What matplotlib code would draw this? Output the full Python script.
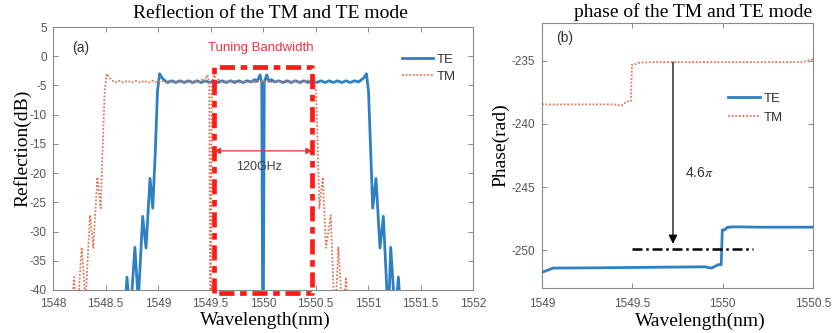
import matplotlib
matplotlib.use("Agg")
import matplotlib.pyplot as plt

# ---------------- data ----------------
# Panel (a): reflection spectra
TE_WL = [1548.600, 1548.690, 1548.705, 1548.722, 1548.745, 1548.780, 1548.812,
         1548.854, 1548.886, 1548.924, 1548.950, 1548.975, 1548.995, 1549.015,
         1549.035, 1549.060, 1549.090, 1549.130, 1549.170, 1549.210, 1549.250,
         1549.290, 1549.330, 1549.370, 1549.410, 1549.450, 1549.490, 1549.530,
         1549.570, 1549.610, 1549.650, 1549.690, 1549.730, 1549.770, 1549.810,
         1549.850, 1549.890, 1549.920, 1549.945, 1549.971, 1549.988, 1549.997,
         1550.003, 1550.012, 1550.035, 1550.055, 1550.080, 1550.110, 1550.150,
         1550.190, 1550.230, 1550.270, 1550.310, 1550.350, 1550.390, 1550.430,
         1550.470, 1550.510, 1550.550, 1550.590, 1550.630, 1550.670, 1550.710,
         1550.750, 1550.790, 1550.830, 1550.870, 1550.910, 1550.940, 1550.965,
         1550.985, 1551.005, 1551.025, 1551.045, 1551.076, 1551.114, 1551.146,
         1551.185, 1551.200, 1551.216, 1551.250, 1551.272, 1551.289, 1551.305,
         1551.400]
TE_DB = [-45.0, -42.0, -37.8, -42.0, -42.0, -32.7, -42.0,
         -27.4, -32.8, -20.9, -26.0, -16.0, -6.0, -3.0,
         -3.6, -4.1, -4.5, -4.2, -4.5, -4.2, -4.5,
         -4.2, -4.5, -4.2, -4.5, -4.2, -4.5, -4.2,
         -4.5, -4.2, -4.5, -4.2, -4.5, -4.2, -4.5,
         -4.2, -4.4, -4.0, -4.3, -3.2, -4.5, -45.0,
         -45.0, -4.5, -3.2, -4.3, -4.0, -4.4, -4.2,
         -4.5, -4.2, -4.5, -4.2, -4.5, -4.2, -4.5,
         -4.2, -4.5, -4.2, -4.5, -4.2, -4.5, -4.2,
         -4.5, -4.2, -4.5, -4.2, -4.4, -4.0, -3.6,
         -3.0, -6.0, -16.0, -26.0, -20.9, -32.8, -27.4,
         -42.0, -42.0, -32.7, -42.0, -42.0, -37.8, -42.0,
         -45.0]

TM_WL = [1548.100, 1548.185, 1548.200, 1548.215, 1548.240, 1548.273, 1548.310,
         1548.352, 1548.384, 1548.422, 1548.454, 1548.472, 1548.492, 1548.512,
         1548.535, 1548.560, 1548.590, 1548.630, 1548.670, 1548.710, 1548.750,
         1548.790, 1548.830, 1548.870, 1548.910, 1548.950, 1548.990, 1549.030,
         1549.070, 1549.110, 1549.150, 1549.190, 1549.230, 1549.270, 1549.310,
         1549.350, 1549.390, 1549.420, 1549.445, 1549.471, 1549.488, 1549.497,
         1549.503, 1549.512, 1549.535, 1549.555, 1549.580, 1549.610, 1549.650,
         1549.690, 1549.730, 1549.770, 1549.810, 1549.850, 1549.890, 1549.930,
         1549.970, 1550.010, 1550.050, 1550.090, 1550.130, 1550.170, 1550.210,
         1550.250, 1550.290, 1550.330, 1550.370, 1550.410, 1550.440, 1550.465,
         1550.485, 1550.505, 1550.522, 1550.537, 1550.569, 1550.600, 1550.645,
         1550.676, 1550.695, 1550.717, 1550.750, 1550.775, 1550.790, 1550.805,
         1550.900]
TM_DB = [-45.0, -42.0, -37.8, -42.0, -42.0, -32.7, -42.0,
         -27.2, -32.8, -20.7, -26.0, -16.0, -6.0, -3.0,
         -3.6, -4.1, -4.5, -4.2, -4.5, -4.2, -4.5,
         -4.2, -4.5, -4.2, -4.5, -4.2, -4.5, -4.2,
         -4.5, -4.2, -4.5, -4.2, -4.5, -4.2, -4.5,
         -4.2, -4.4, -4.0, -4.3, -3.2, -4.5, -45.0,
         -45.0, -4.5, -3.2, -4.3, -4.0, -4.4, -4.2,
         -4.5, -4.2, -4.5, -4.2, -4.5, -4.2, -4.5,
         -4.2, -4.5, -4.2, -4.5, -4.2, -4.5, -4.2,
         -4.5, -4.2, -4.5, -4.2, -4.4, -4.0, -3.6,
         -3.0, -6.0, -16.0, -26.0, -20.7, -32.8, -27.2,
         -42.0, -42.0, -32.7, -42.0, -42.0, -37.8, -42.0,
         -45.0]

REF_XTICKS = [1548, 1548.5, 1549, 1549.5, 1550, 1550.5, 1551, 1551.5, 1552]
REF_XLABELS = ["1548", "1548.5", "1549", "1549.5", "1550", "1550.5", "1551", "1551.5", "1552"]
REF_YTICKS = [5, 0, -5, -10, -15, -20, -25, -30, -35, -40]

BAND = [1549.535, 1550.47]   # tuning bandwidth box (nm)
BAND_TOP = -1.9              # dB
BAND_BOTTOM = -40.5          # dB
ARROW_DB = -16.2             # 120 GHz arrow level

# Panel (b): phase
PH_TE_WL = [1549.000, 1549.030, 1549.060, 1549.300, 1549.600, 1549.900, 1549.940,
            1549.955, 1549.975, 1549.992, 1549.998, 1550.010, 1550.025, 1550.060,
            1550.200, 1550.500]
PH_TE = [-251.75, -251.60, -251.42, -251.40, -251.36, -251.32, -251.42,
         -251.30, -251.15, -251.15, -248.40, -248.40, -248.20, -248.15,
         -248.18, -248.18]

PH_TM_WL = [1549.000, 1549.400, 1549.440, 1549.470, 1549.492, 1549.498, 1549.510,
            1549.540, 1549.600, 1550.000, 1550.440, 1550.480, 1550.500]
PH_TM = [-238.45, -238.45, -238.55, -238.20, -238.20, -235.30, -235.30,
         -235.15, -235.10, -235.10, -235.10, -234.95, -234.88]

PH_XTICKS = [1549, 1549.5, 1550, 1550.5]
PH_XLABELS = ["1549", "1549.5", "1550", "1550.5"]
PH_YTICKS = [-235, -240, -245, -250]

SHIFT_X = 1549.725            # 4.6 pi arrow position
SHIFT_TOP = -235.1
SHIFT_BOTTOM = -249.5
REF_LINE_X = [1549.50, 1550.17]
REF_LINE_Y = -249.9

# ---------------- styling ----------------
TE_COLOR = "#2f80c2"
TM_COLOR = "#e0785a"
TICK_COLOR = "#555555"
SPINE_COLOR = "#8a8a8a"
SERIF = ["Liberation Serif", "DejaVu Serif"]
SANS = ["Liberation Sans", "DejaVu Sans"]

plt.rcParams["font.family"] = SANS
plt.rcParams["mathtext.fontset"] = "stix"
plt.rcParams["axes.unicode_minus"] = False

fig = plt.figure(figsize=(8.36, 3.33), dpi=100)
W, H = 836.0, 333.0

def px_axes(l, t, r, b):
    return fig.add_axes([l / W, 1 - b / H, (r - l) / W, (b - t) / H])

ax1 = px_axes(53, 27, 473, 290)
ax2 = px_axes(542, 23, 813, 288)

for ax in (ax1, ax2):
    for s in ax.spines.values():
        s.set_color(SPINE_COLOR)
        s.set_linewidth(0.8)
    ax.tick_params(direction="in", top=True, right=True, length=3.5,
                   width=0.7, color=SPINE_COLOR, labelcolor=TICK_COLOR,
                   labelsize=8.5)
    ax.tick_params(axis="x", pad=6)
    ax.tick_params(axis="y", pad=4.5)

# ---- panel (a) ----
ax1.plot(TE_WL, TE_DB, color=TE_COLOR, lw=2.0, label="TE", zorder=3)
ax1.plot(TM_WL, TM_DB, color=TM_COLOR, lw=1.3, ls=(0, (1, 1)), label="TM", zorder=4)
ax1.set_xlim(1548, 1552)
ax1.set_ylim(-40, 5)
ax1.set_xticks(REF_XTICKS)
ax1.set_xticklabels(REF_XLABELS)
ax1.set_yticks(REF_YTICKS)

bx = [BAND[0], BAND[0], BAND[1], BAND[1], BAND[0]]
by = [BAND_BOTTOM, BAND_TOP, BAND_TOP, BAND_BOTTOM, BAND_BOTTOM]
ax1.plot(bx, by, color="#ff1a1a", lw=3.4, ls=(0, (3.2, 1.2, 1.4, 1.2)),
         clip_on=False, zorder=6, solid_capstyle="butt", dash_capstyle="butt")
ax1.text(sum(BAND) / 2 - 0.02, 1.4, "Tuning Bandwidth", color="#ee3344",
         fontsize=9.5, ha="center", va="center")
ax1.annotate("", xy=(BAND[0], ARROW_DB), xytext=(BAND[1], ARROW_DB),
             arrowprops=dict(arrowstyle="<|-|>", color="#e03030", lw=0.9,
                             mutation_scale=9, shrinkA=0, shrinkB=0), zorder=7)
ax1.text(1549.965, -19.0, "120GHz", color="#404040", fontsize=9,
         ha="center", va="center", zorder=8)
ax1.text(1548.18, 1.4, "(a)", color="#303030", fontsize=10, ha="left",
         va="center")
leg1 = ax1.legend(loc="upper left", bbox_to_anchor=(0.83, 0.898), frameon=False,
                  fontsize=9.5, handlelength=2.4, handletextpad=0.3,
                  labelspacing=0.35, borderpad=0, borderaxespad=0)
for t in leg1.get_texts():
    t.set_color("#333333")

# ---- panel (b) ----
ax2.plot(PH_TE_WL, PH_TE, color=TE_COLOR, lw=2.0, label="TE", zorder=3)
ax2.plot(PH_TM_WL, PH_TM, color=TM_COLOR, lw=1.3, ls=(0, (1, 1)), label="TM", zorder=4)
ax2.set_xlim(1549, 1550.5)
ax2.set_ylim(-253, -232)
ax2.set_xticks(PH_XTICKS)
ax2.set_xticklabels(PH_XLABELS)
ax2.set_yticks(PH_YTICKS)
ax2.tick_params(axis="x", pad=7)
ax2.tick_params(axis="y", pad=5)

ax2.annotate("", xy=(SHIFT_X, SHIFT_BOTTOM), xytext=(SHIFT_X, SHIFT_TOP),
             arrowprops=dict(arrowstyle="-|>", color="black", lw=0.9,
                             mutation_scale=13, shrinkA=0, shrinkB=0), zorder=6)
ax2.plot(REF_LINE_X, [REF_LINE_Y, REF_LINE_Y], color="black", lw=1.8,
         ls=(0, (4, 1.5, 1, 1.5)), zorder=5)
ax2.text(1549.87, -243.9, r"4.6$\pi$", color="#333333", fontsize=10,
         ha="center", va="center")
ax2.text(1549.08, -233.2, "(b)", color="#303030", fontsize=10, ha="left",
         va="center")
leg2 = ax2.legend(loc="upper left", bbox_to_anchor=(0.686, 0.737), frameon=False,
                  fontsize=9.5, handlelength=2.4, handletextpad=0.3,
                  labelspacing=0.5, borderpad=0, borderaxespad=0)
for t in leg2.get_texts():
    t.set_color("#333333")

# ---- titles and axis labels (serif) ----
fig.text(270 / W, 1 - 14 / H, "Reflection of the TM and TE mode",
         family=SERIF, fontsize=14, ha="center", va="center")
fig.text(693 / W, 1 - 12 / H, "phase of the TM and TE mode",
         family=SERIF, fontsize=14, ha="center", va="center")
fig.text(265 / W, 1 - 320 / H, "Wavelength(nm)", family=SERIF, fontsize=14,
         ha="center", va="center")
fig.text(700 / W, 1 - 321 / H, "Wavelength(nm)", family=SERIF, fontsize=14,
         ha="center", va="center")
fig.text(22 / W, 1 - 148 / H, "Reflection(dB)", family=SERIF, fontsize=14,
         ha="center", va="center", rotation=90)
fig.text(501 / W, 1 - 145 / H, "Phase(rad)", family=SERIF, fontsize=14,
         ha="center", va="center", rotation=90)

fig.savefig("out.png", dpi=100)
